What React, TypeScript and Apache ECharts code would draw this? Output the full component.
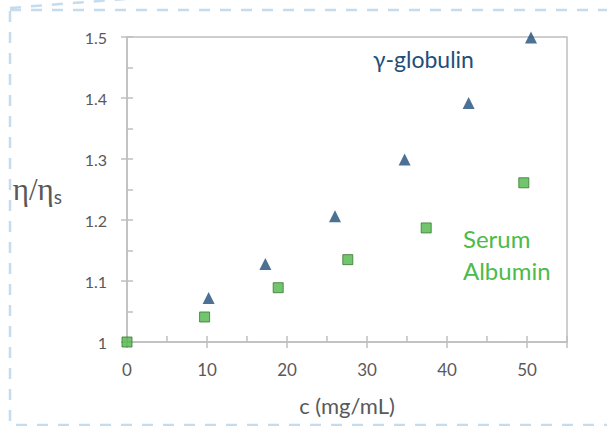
import React, { useEffect, useRef } from "react";
import * as echarts from "echarts";

const globulinX = [10.2, 17.3, 26.0, 34.7, 42.7, 50.5];
const globulinY = [1.072, 1.128, 1.206, 1.299, 1.392, 1.499];
const albuminX = [0, 9.7, 18.9, 27.6, 37.4, 49.6];
const albuminY = [1.0, 1.041, 1.089, 1.135, 1.187, 1.261];
const xTicks = [0, 10, 20, 30, 40, 50];
const yTicks = [1, 1.1, 1.2, 1.3, 1.4, 1.5];

const FONT = "Lato, 'Open Sans', sans-serif";
const GREY = "#595959";
const AXIS = "#bfbfbf";

export default function App() {
  const ref = useRef<HTMLDivElement>(null);
  useEffect(() => {
    if (!ref.current) return;
    const chart = echarts.init(ref.current, null, { renderer: "svg" });
    const pairs = (xs: number[], ys: number[]) => xs.map((x, i) => [x, ys[i]]);
    const xLabel = (v: number) => (xTicks.includes(v) ? String(v) : "");
    const yLabel = (v: number) => {
      const r = Math.round(v * 100) / 100;
      return yTicks.some((t) => Math.abs(t - r) < 1e-6) ? String(r) : "";
    };
    chart.setOption({
      animation: false,
      backgroundColor: "#ffffff",
      grid: { left: 127, top: 37, right: 40, bottom: 84, show: true, borderColor: AXIS, borderWidth: 1.5 },
      xAxis: [
        {
          type: "value", min: 0, max: 55, interval: 10,
          axisLine: { show: true, lineStyle: { color: AXIS, width: 1.5 } },
          axisTick: { show: true, inside: true, length: 6, lineStyle: { color: AXIS, width: 1.5 } },
          minorTick: { show: true, splitNumber: 2, length: 6, lineStyle: { color: AXIS, width: 1.5 } },
          splitLine: { show: false },
          axisLabel: { formatter: xLabel, color: GREY, fontSize: 17, fontFamily: FONT, margin: 19, showMaxLabel: false },
          name: "c (mg/mL)", nameLocation: "middle", nameGap: 52,
          nameTextStyle: { color: GREY, fontSize: 22, fontFamily: FONT },
        },
        {
          type: "value", min: 0, max: 55, interval: 10, position: "bottom",
          axisLine: { show: false },
          axisTick: { show: true, inside: false, length: 6, lineStyle: { color: AXIS, width: 1.5 } },
          splitLine: { show: false },
          axisLabel: { show: false },
        },
      ],
      yAxis: [
        {
          type: "value", min: 1, max: 1.5, interval: 0.1,
          axisLine: { show: true, lineStyle: { color: AXIS, width: 1.5 } },
          axisTick: { show: true, inside: true, length: 6, lineStyle: { color: AXIS, width: 1.5 } },
          minorTick: { show: true, splitNumber: 2, length: 6, lineStyle: { color: AXIS, width: 1.5 } },
          splitLine: { show: false },
          axisLabel: { formatter: yLabel, color: GREY, fontSize: 16, fontFamily: FONT, margin: 20 },
          name: "{a|η/η}{b|s}", nameLocation: "middle", nameGap: 65, nameRotate: 0,
          nameTextStyle: {
            rich: {
              a: { fontFamily: "'Liberation Serif', 'DejaVu Serif', serif", fontSize: 31, color: GREY },
              b: { fontFamily: FONT, fontSize: 19, color: GREY, verticalAlign: "bottom", padding: [13, 0, 0, 0] },
            },
          },
        },
        {
          type: "value", min: 1, max: 1.5, interval: 0.1, position: "left",
          axisLine: { show: false },
          axisTick: { show: true, inside: false, length: 6, lineStyle: { color: AXIS, width: 1.5 } },
          splitLine: { show: false },
          axisLabel: { show: false },
        },
      ],
      series: [
        {
          type: "scatter", name: "γ-globulin", data: pairs(globulinX, globulinY),
          symbol: "triangle", symbolSize: 12,
          itemStyle: { color: "#1f4e79" },
        },
        {
          type: "scatter", name: "Serum Albumin", data: pairs(albuminX, albuminY),
          symbol: "rect", symbolSize: 10,
          itemStyle: { color: "#4db848", borderColor: "#3a7530", borderWidth: 1 },
        },
      ],
      graphic: [
        {
          type: "rect", shape: { x: 10, y: 10, width: 620, height: 415 }, silent: true,
          style: { fill: "none", stroke: "#c5dbee", lineWidth: 2.5, lineDash: [11, 10] },
        },
        {
          type: "line", shape: { x1: 10, y1: 8, x2: 150, y2: -3 }, silent: true,
          style: { stroke: "#c5dbee", lineWidth: 2.5, lineDash: [11, 10] },
        },
        {
          type: "text", left: 373, top: 47,
          style: { text: "γ-globulin", fill: "#1f4e79", fontSize: 23, fontFamily: FONT },
        },
        {
          type: "text", left: 463, top: 222,
          style: { text: "Serum\nAlbumin", fill: "#4cbb4a", fontSize: 24, fontFamily: FONT, lineHeight: 32 },
        },
      ],
    });
    return () => chart.dispose();
  }, []);
  return <div ref={ref} style={{ position: "fixed", left: 0, top: 0, width: 607, height: 426 }} />;
}
